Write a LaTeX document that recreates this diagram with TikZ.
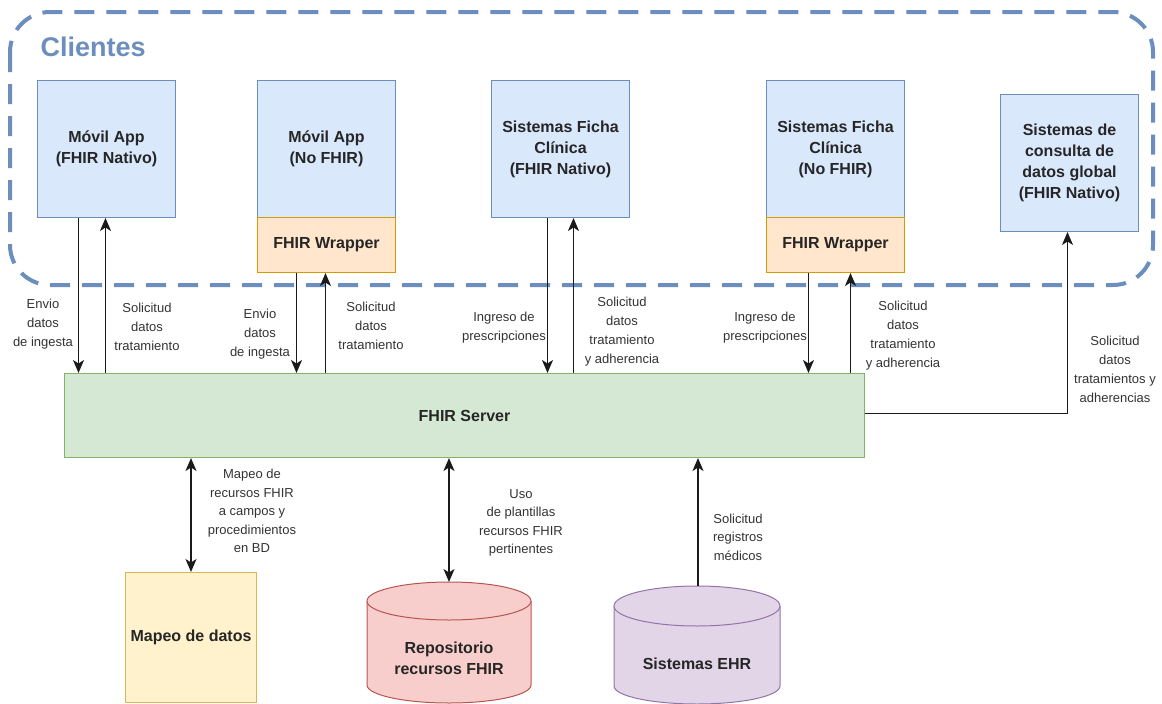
\documentclass[tikz,border=0pt]{standalone}
\usepackage{fontspec}
\setmainfont{Liberation Sans}
\usetikzlibrary{arrows.meta,calc}

\definecolor{blueline}{HTML}{6C8EBF}
\definecolor{bluefill}{HTML}{DAE8FC}
\definecolor{orangeline}{HTML}{D79B00}
\definecolor{orangefill}{HTML}{FFE6CC}
\definecolor{greenline}{HTML}{82B366}
\definecolor{greenfill}{HTML}{D5E8D4}
\definecolor{yellowline}{HTML}{D6B656}
\definecolor{yellowfill}{HTML}{FFF2CC}
\definecolor{redline}{HTML}{B85450}
\definecolor{redfill}{HTML}{F8CECC}
\definecolor{purpleline}{HTML}{9673A6}
\definecolor{purplefill}{HTML}{E1D5E7}
\definecolor{wire}{HTML}{1A1A1A}

\tikzset{
  boxtext/.style={font=\bfseries\fontsize{16}{21}\selectfont, align=center, text=black!85},
  clientbox/.style={boxtext, draw=blueline, fill=bluefill, line width=1pt,
    minimum width=138pt, minimum height=137pt, anchor=north west, inner sep=2pt},
  wrapbox/.style={boxtext, draw=orangeline, fill=orangefill, line width=1pt,
    minimum width=138pt, minimum height=55pt, anchor=north west, inner sep=2pt},
  lbl/.style={font=\fontsize{13}{19}\selectfont, align=center, text=black!80, inner sep=1pt},
  lbllow/.style={lbl, font=\fontsize{13}{18.5}\selectfont},
  tip/.tip={Stealth[length=13pt,width=11pt,inset=3.5pt]},
  arr/.style={draw=wire, line width=1.5pt, -tip},
  darr/.style={draw=wire, line width=1.5pt, tip-tip},
  drum/.style={line width=1pt}
}

\begin{document}
\begin{tikzpicture}[x=1pt,y=1pt]
\useasboundingbox (0,0) rectangle (1162,-704);

% client group frame
\draw[blueline, line width=4pt, dash pattern=on 20pt off 12pt, rounded corners=40pt]
  (10,-12) rectangle (1153,-285);
\node[font=\bfseries\fontsize{27}{30}\selectfont, text=blueline, anchor=west] (cl) at (37,-47) {Clientes};

% client systems
\node[clientbox] (m1) at (37,-80) {Móvil App\\(FHIR Nativo)};
\node[clientbox] (m2) at (257,-80) {Móvil App\\(No FHIR)};
\node[wrapbox]   (w2) at (257,-217) {FHIR Wrapper};
\node[clientbox] (m3) at (491,-80) {Sistemas Ficha\\Clínica\\(FHIR Nativo)};
\node[clientbox] (m4) at (766,-80) {Sistemas Ficha\\Clínica\\(No FHIR)};
\node[wrapbox]   (w4) at (766,-217) {FHIR Wrapper};
\node[clientbox] (m5) at (1000,-94) {Sistemas de\\consulta de\\datos global\\(FHIR Nativo)};

% server
\node[boxtext, draw=greenline, fill=greenfill, line width=1pt, minimum width=800pt,
      minimum height=84pt, anchor=north west] (srv) at (64,-373) {FHIR Server};

% data mapping store
\node[boxtext, draw=yellowline, fill=yellowfill, line width=1pt, minimum width=131pt,
      minimum height=130pt, anchor=north west] (map) at (125,-572) {Mapeo de datos};

% FHIR resource repository (cylinder)
\fill[redfill] (367,-601) rectangle (531,-685);
\fill[redfill] (449,-685) ellipse[x radius=82, y radius=18];
\draw[redline, drum] (367,-601) -- (367,-685) arc[start angle=180, end angle=360, x radius=82, y radius=18] -- (531,-601);
\filldraw[draw=redline, fill=redfill, drum] (449,-601) ellipse[x radius=82, y radius=19];
\coordinate (repotop) at (449,-582);
\node[boxtext] (repo) at (449,-658) {Repositorio\\recursos FHIR};

% EHR systems (cylinder)
\fill[purplefill] (614,-606) rectangle (780,-686);
\fill[purplefill] (697,-686) ellipse[x radius=83, y radius=18];
\draw[purpleline, drum] (614,-606) -- (614,-686) arc[start angle=180, end angle=360, x radius=83, y radius=18] -- (780,-606);
\filldraw[draw=purpleline, fill=purplefill, drum] (697,-606) ellipse[x radius=83, y radius=20];
\coordinate (ehrtop) at (698,-586);
\node[boxtext] (ehr) at (697,-664) {Sistemas EHR};

% client <-> server flows
\draw[arr] ([xshift=-28pt]m1.south) -- ([xshift=-28pt]m1.south |- srv.north);
\draw[arr] ([xshift=-1pt]m1.south |- srv.north) -- ([xshift=-1pt]m1.south);
\draw[arr] ([xshift=-30pt]w2.south) -- ([xshift=-30pt]w2.south |- srv.north);
\draw[arr] ([xshift=-1pt]w2.south |- srv.north) -- ([xshift=-1pt]w2.south);
\draw[arr] ([xshift=-13pt]m3.south) -- ([xshift=-13pt]m3.south |- srv.north);
\draw[arr] ([xshift=13pt]m3.south |- srv.north) -- ([xshift=13pt]m3.south);
\draw[arr] ([xshift=-27pt]w4.south) -- ([xshift=-27pt]w4.south |- srv.north);
\draw[arr] ([xshift=15pt]w4.south |- srv.north) -- ([xshift=15pt]w4.south);
\draw[arr] ([yshift=2pt]srv.east) -| ([xshift=-2pt]m5.south);

% server <-> back-end flows
\draw[darr] (map.north) -- (map.north |- srv.south);
\draw[darr] (repotop) -- (repotop |- srv.south);
\draw[arr] (ehrtop) -- (ehrtop |- srv.south);

% flow labels
\node[lbl] (l1) at (43,-324) {Envio\\datos\\de ingesta};
\node[lbl] (l2) at (147,-327) {Solicitud\\datos\\tratamiento};
\node[lbl] (l3) at (260,-334) {Envio\\datos\\de ingesta};
\node[lbl] (l4) at (371,-326) {Solicitud\\datos\\tratamiento};
\node[lbl] (l5) at (504,-328) {Ingreso de\\prescripciones};
\node[lbl] (l6) at (622,-332) {Solicitud\\datos\\tratamiento\\y adherencia};
\node[lbl] (l7) at (765,-328) {Ingreso de\\prescripciones};
\node[lbl] (l8) at (903,-336) {Solicitud\\datos\\tratamiento\\y adherencia};
\node[lbl] (l9) at (1115,-369) {Solicitud\\datos\\tratamientos y\\adherencias};
\node[lbllow] (l10) at (252,-511) {Mapeo de\\recursos FHIR\\a campos y\\procedimientos\\en BD};
\node[lbllow] (l11) at (521,-523) {Uso\\de plantillas\\recursos FHIR\\pertinentes};
\node[lbllow] (l12) at (738,-537) {Solicitud\\registros\\médicos};
\end{tikzpicture}
\end{document}
